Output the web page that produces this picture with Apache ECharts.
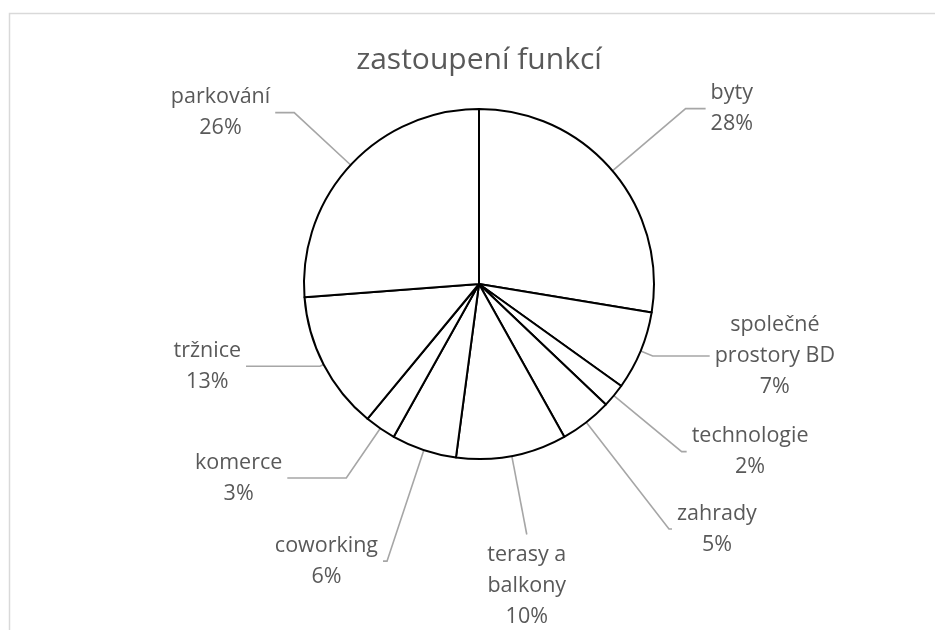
<!DOCTYPE html>
<html>
<head>
<meta charset="utf-8">
<script src="https://cdn.jsdelivr.net/npm/echarts@6/dist/echarts.min.js"></script>
<style>html,body{margin:0;padding:0;background:#fff}#c{width:935px;height:630px}</style>
</head>
<body>
<div id="c"></div>
<script>
// Data
const categories = ['byty', 'společné prostory BD', 'technologie', 'zahrady', 'terasy a balkony', 'coworking', 'komerce', 'tržnice', 'parkování'];
const labelNames = ['byty', 'společné\nprostory BD', 'technologie', 'zahrady', 'terasy a\nbalkony', 'coworking', 'komerce', 'tržnice', 'parkování'];
const values = [27.6, 7.3, 2.2, 4.8, 10.2, 6.0, 2.9, 12.8, 26.2];

// Leader line styling (per slice)
const lineLength = [96, 13, 88, 135, 80, 117, 60, 4, 77];
const lineLength2 = [20, 57, 5, 3, 0, 4, 59, 74, 19];

const chart = echarts.init(document.getElementById('c'));
const textColor = '#595959';
const font = 'Open Sans';

chart.setOption({
  animation: false,
  backgroundColor: '#ffffff',
  title: {
    text: 'zastoupení funkcí',
    left: 474,
    top: 40,
    textAlign: 'center',
    textStyle: { fontFamily: font, fontSize: 30, fontWeight: 'normal', color: textColor }
  },
  graphic: [{
    type: 'rect',
    silent: true,
    shape: { x: 9.5, y: 13.5, width: 2000, height: 2000 },
    style: { fill: 'none', stroke: '#d9d9d9', lineWidth: 1.5 }
  }],
  series: [{
    type: 'pie',
    center: [479, 284],
    radius: 175,
    startAngle: 90,
    clockwise: true,
    avoidLabelOverlap: false,
    itemStyle: { color: '#ffffff', borderColor: '#000000', borderWidth: 2 },
    label: {
      show: true,
      position: 'outside',
      color: textColor,
      fontFamily: font,
      fontSize: 21.5,
      lineHeight: 31,
      formatter: function (p) {
        return labelNames[p.dataIndex] + '\n' + Math.round(p.percent) + '%';
      }
    },
    labelLine: {
      show: true,
      lineStyle: { color: '#a6a6a6', width: 1.6 }
    },
    emphasis: { disabled: true },
    labelLayout: function (p) {
      const pts = p.labelLinePoints;
      if (!pts || pts.length < 3) return {};
      const a = pts[0], b = pts[1], e = pts[2];
      const w = p.labelRect.width;
      const gap = 5;
      const vx = b[0] - a[0], vy = b[1] - a[1];
      if (Math.abs(e[0] - b[0]) < 0.5 && vy > 0 && Math.abs(vx) < 0.4 * vy) {
        return { x: e[0], y: e[1] + gap, align: 'center', verticalAlign: 'top', labelLinePoints: pts };
      }
      const dir = (e[0] - b[0]) !== 0 ? Math.sign(e[0] - b[0]) : Math.sign(vx);
      return { x: e[0] + dir * (gap + w / 2), y: e[1], align: 'center', verticalAlign: 'middle', labelLinePoints: pts };
    },
    data: categories.map(function (name, i) {
      return {
        name: name,
        value: values[i],
        labelLine: { length: lineLength[i], length2: lineLength2[i] }
      };
    })
  }]
});
</script>
</body>
</html>
